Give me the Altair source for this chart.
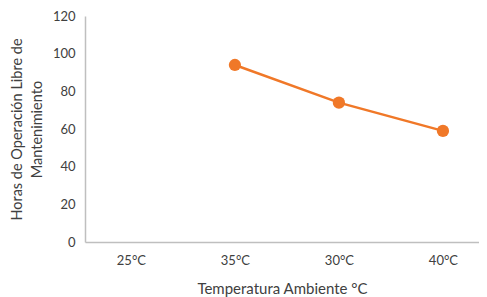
import altair as alt
import pandas as pd

categories = ["25°C", "35°C", "30°C", "40°C"]
hours = [None, 94, 74, 59]

df = pd.DataFrame({"temp": categories, "hours": hours})

x = alt.X("temp:N", sort=categories,
          scale=alt.Scale(type="point", domain=categories, padding=0.394, align=0.56),
          axis=alt.Axis(title="Temperatura Ambiente °C", labelAngle=0, ticks=False,
                        domain=True, domainColor="#bfbfbf", domainWidth=1.5,
                        labelPadding=12, titlePadding=14, labelFontSize=13,
                        titleFontSize=15, labelColor="#404040", titleColor="#404040",
                        titleFontWeight="normal", labelFont="Lato", titleFont="Lato"))
y = alt.Y("hours:Q",
          scale=alt.Scale(domain=[0, 120]),
          axis=alt.Axis(title=["Horas de Operación Libre de", "Mantenimiento"],
                        values=[0, 20, 40, 60, 80, 100, 120], grid=False, ticks=False,
                        domain=True, domainColor="#bfbfbf", domainWidth=1.5,
                        labelPadding=10, titlePadding=8, labelFontSize=13,
                        titleFontSize=14.5, titleLineHeight=20,
                        labelColor="#404040", titleColor="#404040",
                        titleFontWeight="normal", labelFont="Lato", titleFont="Lato"))

base = alt.Chart(df).encode(x=x, y=y)
line = base.mark_line(color="#F07828", strokeWidth=2.5)
points = base.mark_circle(color="#F07828", size=150, opacity=1)

chart = (line + points).properties(
    width=394, height=226,
    autosize=alt.AutoSizeParams(type="none"),
    padding={"left": 77, "top": 8, "right": 0, "bottom": 55},
).configure_view(stroke=None)

chart.save("out.html", embed_options={"renderer": "svg", "actions": False})
